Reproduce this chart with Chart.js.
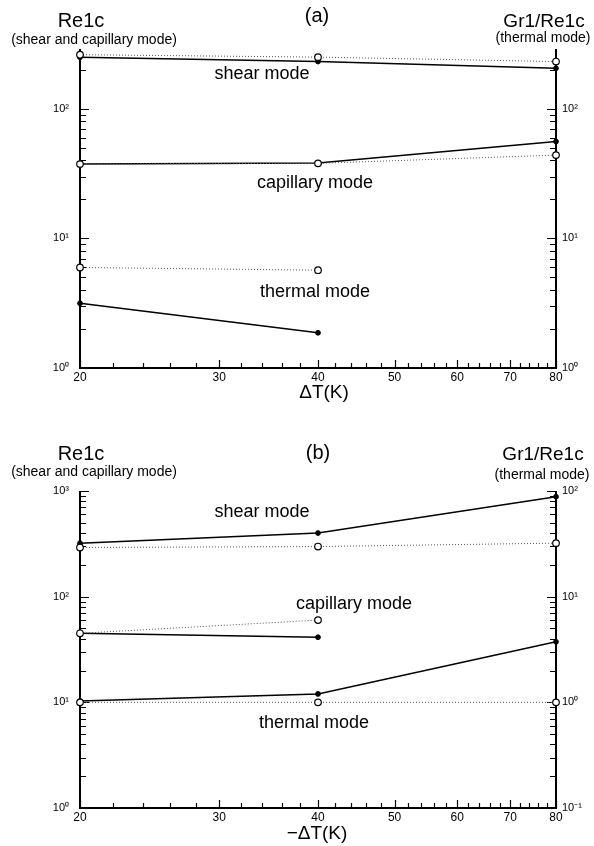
<!DOCTYPE html>
<html><head><meta charset="utf-8">
<script src="https://cdn.jsdelivr.net/npm/chart.js@4.4.1/dist/chart.umd.min.js"></script>
<style>
html,body{margin:0;padding:0;background:#fff;}
#wrap{position:relative;width:594px;height:846px;overflow:hidden;}
canvas{position:absolute;left:0;}
#ca{top:0}
#cb{top:423px}
</style></head><body>
<div id="wrap"><canvas id="ca" width="594" height="423"></canvas><canvas id="cb" width="594" height="423"></canvas></div>
<script>
// Temperature difference (K) at which the critical values were computed
const dT = [20, 40, 80];
const xTickValues = [20, 30, 40, 50, 60, 70, 80];

// (a) heating: Re1c for shear / capillary modes, Gr1/Re1c for the thermal mode
const aShearOpen    = [262, 251, 232];
const aShearFilled  = [250, 232, 206];
const aCapOpen      = [37.5, 38, 44];
const aCapFilled    = [37.5, 38.3, 56];
const aThermOpen    = [5.97, 5.69];
const aThermFilled  = [3.16, 1.87];
const aLeftDecades  = [1, 10, 100];
const aRightDecades = [1, 10, 100];

// (b) cooling
const bShearOpen    = [292, 298, 321];
const bShearFilled  = [321, 400, 883];
const bCapOpen      = [45, 60];
const bCapFilled    = [45, 41.3];
const bThermOpen    = [1.0, 1.0, 1.0];
const bThermFilled  = [1.03, 1.2, 3.74];
const bLeftDecades  = [1, 10, 100, 1000];
const bRightDecades = [0.1, 1, 10, 100];

const FONT = "'Liberation Sans', Arial, Helvetica, sans-serif";
const SUP = {'-1': '\u207B\u00B9', '0': '\u2070', '1': '\u00B9', '2': '\u00B2', '3': '\u00B3'};
const pow10Label = v => '10' + SUP[String(Math.round(Math.log10(v)))];

const pts = vals => vals.map((y, i) => ({x: dT[i], y}));

function solid(vals, axis) {
  return {data: pts(vals), yAxisID: axis, borderColor: '#000', borderWidth: 1.5,
    pointStyle: 'circle', pointRadius: 2.4, pointBackgroundColor: '#000', pointBorderColor: '#000',
    pointBorderWidth: 1, clip: false, tension: 0};
}
function dotted(vals, axis) {
  return {data: pts(vals), yAxisID: axis, borderColor: '#555', borderWidth: 1, borderDash: [1, 2],
    pointStyle: 'circle', pointRadius: 3.3, pointBackgroundColor: '#fff', pointBorderColor: '#000',
    pointBorderWidth: 1.2, clip: false, tension: 0};
}

// Axis frame (left, bottom, right) with inward major/minor ticks
const framePlugin = {
  id: 'frame',
  beforeDatasetsDraw(chart) {
    const {ctx, chartArea: a, scales} = chart;
    ctx.save();
    ctx.strokeStyle = '#000';
    ctx.lineWidth = 1.2;
    ctx.beginPath();
    const ys = [['y', 1], ['y2', -1]];
    for (const [id, dir] of ys) {
      const s = scales[id];
      const x0 = dir > 0 ? a.left : a.right;
      for (let e = Math.floor(Math.log10(s.min)); e <= Math.ceil(Math.log10(s.max)); e++) {
        for (let k = 1; k <= 9; k++) {
          const v = k * Math.pow(10, e);
          if (v < s.min * 0.999 || v > s.max * 1.001) continue;
          const p = Math.round(s.getPixelForValue(v)) + 0.5;
          const len = k === 1 ? 9 : 6;
          ctx.moveTo(x0, p); ctx.lineTo(x0 + dir * len, p);
        }
      }
    }
    const sx = scales.x;
    for (let v = 20; v <= 80; v += 2) {
      const p = Math.round(sx.getPixelForValue(v)) + 0.5;
      const len = v % 10 === 0 ? 8 : 5;
      ctx.moveTo(p, a.bottom); ctx.lineTo(p, a.bottom - len);
    }
    ctx.stroke();
    ctx.lineWidth = 2;
    ctx.beginPath();
    ctx.moveTo(a.left, a.top); ctx.lineTo(a.left, a.bottom);
    ctx.lineTo(a.right, a.bottom); ctx.lineTo(a.right, a.top);
    ctx.stroke();
    ctx.restore();
  },
  afterDraw(chart, args, opts) {
    const ctx = chart.ctx;
    ctx.save();
    ctx.fillStyle = '#000';
    ctx.textAlign = 'center';
    ctx.textBaseline = 'middle';
    for (const t of opts.texts || []) {
      ctx.font = t.size + 'px ' + FONT;
      ctx.fillText(t.text, t.x, t.y);
    }
    ctx.restore();
  }
};

function makeChart(id, cfg) {
  const tickFont = {family: FONT, size: 12};
  const yTickFont = {family: FONT, size: 11};
  const noGrid = {display: false, drawTicks: false};
  return new Chart(document.getElementById(id), {
    type: 'line',
    data: {datasets: cfg.datasets},
    plugins: [framePlugin],
    options: {
      responsive: false, animation: false, devicePixelRatio: 1,
      layout: {padding: {top: cfg.top, left: 0, right: 0, bottom: 0}},
      plugins: {legend: {display: false}, tooltip: {enabled: false}, frame: {texts: cfg.texts}},
      scales: {
        x: {
          type: 'logarithmic', min: 20, max: 80, position: 'bottom',
          grid: noGrid, border: {display: false},
          afterBuildTicks: s => { s.ticks = xTickValues.map(v => ({value: v})); },
          afterFit: s => { s.height = cfg.xHeight; },
          ticks: {color: '#000', font: tickFont, padding: 2, maxRotation: 0, autoSkip: false,
                  callback: v => String(v)}
        },
        y: {
          type: 'logarithmic', min: cfg.leftRange[0], max: cfg.leftRange[1], position: 'left',
          grid: noGrid, border: {display: false},
          afterBuildTicks: s => { s.ticks = cfg.leftDecades.map(v => ({value: v})); },
          afterFit: s => { s.width = 80; },
          ticks: {color: '#000', font: yTickFont, padding: 11, autoSkip: false, callback: v => pow10Label(v)}
        },
        y2: {
          type: 'logarithmic', min: cfg.rightRange[0], max: cfg.rightRange[1], position: 'right',
          grid: noGrid, border: {display: false},
          afterBuildTicks: s => { s.ticks = cfg.rightDecades.map(v => ({value: v})); },
          afterFit: s => { s.width = 38; },
          ticks: {color: '#000', font: yTickFont, padding: 6, autoSkip: false, callback: v => pow10Label(v)}
        }
      }
    }
  });
}

makeChart('ca', {
  top: 49, xHeight: 55,
  leftRange: [1, 290], rightRange: [1, 290],
  leftDecades: aLeftDecades, rightDecades: aRightDecades,
  datasets: [
    dotted(aShearOpen, 'y'), solid(aShearFilled, 'y'),
    dotted(aCapOpen, 'y'), solid(aCapFilled, 'y'),
    dotted(aThermOpen, 'y2'), solid(aThermFilled, 'y2')
  ],
  texts: [
    {text: '(a)', x: 317, y: 16, size: 20},
    {text: 'Re1c', x: 81, y: 21, size: 20},
    {text: '(shear and capillary mode)', x: 94, y: 40, size: 14},
    {text: 'Gr1/Re1c', x: 544, y: 22, size: 19},
    {text: '(thermal mode)', x: 543, y: 38, size: 14},
    {text: 'shear mode', x: 262, y: 74, size: 18},
    {text: 'capillary mode', x: 315, y: 183, size: 18},
    {text: 'thermal mode', x: 315, y: 292, size: 18},
    {text: '\u0394T(K)', x: 324, y: 393, size: 19}
  ]
});

makeChart('cb', {
  top: 68, xHeight: 38,
  leftRange: [1, 1000], rightRange: [0.1, 100],
  leftDecades: bLeftDecades, rightDecades: bRightDecades,
  datasets: [
    dotted(bShearOpen, 'y'), solid(bShearFilled, 'y'),
    dotted(bCapOpen, 'y'), solid(bCapFilled, 'y'),
    dotted(bThermOpen, 'y2'), solid(bThermFilled, 'y2')
  ],
  texts: [
    {text: '(b)', x: 318, y: 30, size: 20},
    {text: 'Re1c', x: 81, y: 31, size: 20},
    {text: '(shear and capillary mode)', x: 94, y: 49, size: 14},
    {text: 'Gr1/Re1c', x: 543, y: 32, size: 19},
    {text: '(thermal mode)', x: 542, y: 52, size: 14},
    {text: 'shear mode', x: 262, y: 89, size: 18},
    {text: 'capillary mode', x: 354, y: 181, size: 18},
    {text: 'thermal mode', x: 314, y: 300, size: 18},
    {text: '\u2212\u0394T(K)', x: 317, y: 411, size: 19}
  ]
});
</script>
</body></html>
